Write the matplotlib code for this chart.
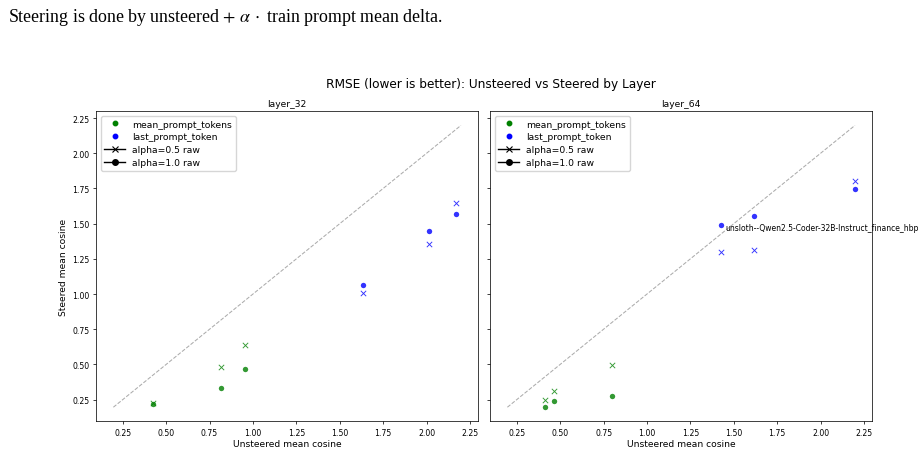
import matplotlib
matplotlib.use('Agg')
import matplotlib.pyplot as plt
from matplotlib.lines import Line2D

# values
layers = ['layer_32', 'layer_64']

# mean_prompt_tokens: unsteered x, steered y for alpha=0.5 and alpha=1.0
mean_x = {'layer_32': [0.423, 0.815, 0.952], 'layer_64': [0.415, 0.465, 0.801]}
mean_a05 = {'layer_32': [0.229, 0.479, 0.640], 'layer_64': [0.248, 0.311, 0.493]}
mean_a10 = {'layer_32': [0.222, 0.335, 0.470], 'layer_64': [0.196, 0.243, 0.276]}

# last_prompt_token
last_x = {'layer_32': [1.635, 2.015, 2.171], 'layer_64': [1.425, 1.617, 2.198]}
last_a05 = {'layer_32': [1.010, 1.353, 1.648], 'layer_64': [1.301, 1.315, 1.806]}
last_a10 = {'layer_32': [1.065, 1.445, 1.570], 'layer_64': [1.490, 1.556, 1.745]}

# annotated outlier
note_label = 'unsloth--Qwen2.5-Coder-32B-Instruct_finance_hbp'
note_x, note_y = last_x['layer_64'][0], last_a10['layer_64'][0]

caption = r'Steering is done by unsteered $+$ $\alpha\,\cdot$ train prompt mean delta.'

plt.rcParams['mathtext.fontset'] = 'stix'
S = 0.66  # the figure was shrunk in the document

fig = plt.figure(figsize=(9.23, 4.52), dpi=100)
fig.text(0.009, 0.952, caption, family='Liberation Serif', fontsize=12.9, va='baseline')
fig.text(0.532, 0.812, 'RMSE (lower is better): Unsteered vs Steered by Layer',
         ha='center', va='center', fontsize=8.7)

ax1 = fig.add_axes([0.104, 0.0657, 0.4142, 0.6858])
ax2 = fig.add_axes([0.5309, 0.0657, 0.4142, 0.6858], sharey=ax1)
axes = [ax1, ax2]

all_vals = []
for layer in layers:
    for d in (mean_x, mean_a05, mean_a10, last_x, last_a05, last_a10):
        all_vals += d[layer]
lo, hi = min(all_vals), max(all_vals)

ms = 15
for ax, layer in zip(axes, layers):
    ax.plot([lo, hi], [lo, hi], linestyle='--', color='gray', alpha=0.65, lw=0.75)
    ax.scatter(mean_x[layer], mean_a05[layer], marker='x', color='green', alpha=0.8, s=ms, linewidths=1.0 * S)
    ax.scatter(mean_x[layer], mean_a10[layer], marker='o', color='green', alpha=0.8, s=ms, linewidths=0)
    ax.scatter(last_x[layer], last_a05[layer], marker='x', color='blue', alpha=0.8, s=ms, linewidths=1.0 * S)
    ax.scatter(last_x[layer], last_a10[layer], marker='o', color='blue', alpha=0.8, s=ms, linewidths=0)
    ax.set_title(layer, fontsize=10 * S, pad=6 * S)
    ax.set_xlabel('Unsteered mean cosine', fontsize=10 * S, labelpad=2)
    ax.tick_params(labelsize=5.6, length=3.5 * S, width=0.8 * S, pad=3.5 * S)
    for sp in ax.spines.values():
        sp.set_linewidth(0.8 * S)

    handles = [
        Line2D([0], [0], marker='o', linestyle='', color='green', markersize=3.2),
        Line2D([0], [0], marker='o', linestyle='', color='blue', markersize=3.2),
        Line2D([0], [0], marker='x', color='black', lw=1.0, markersize=4, markeredgewidth=0.8),
        Line2D([0], [0], marker='o', color='black', lw=1.0, markersize=4),
    ]
    ax.legend(handles, ['mean_prompt_tokens', 'last_prompt_token', 'alpha=0.5 raw', 'alpha=1.0 raw'],
              loc='upper left', fontsize=6.7, frameon=True, borderaxespad=0.5,
              labelspacing=0.4, handlelength=2.2)

ax1.set_ylabel('Steered mean cosine', fontsize=10 * S, labelpad=3)
plt.setp(ax2.get_yticklabels(), visible=False)

ax2.annotate(note_label, (note_x, note_y), xytext=(3, -1.5), textcoords='offset points',
             fontsize=5.5, va='center', ha='left', annotation_clip=False)

fig.savefig('out.png', dpi=100)
